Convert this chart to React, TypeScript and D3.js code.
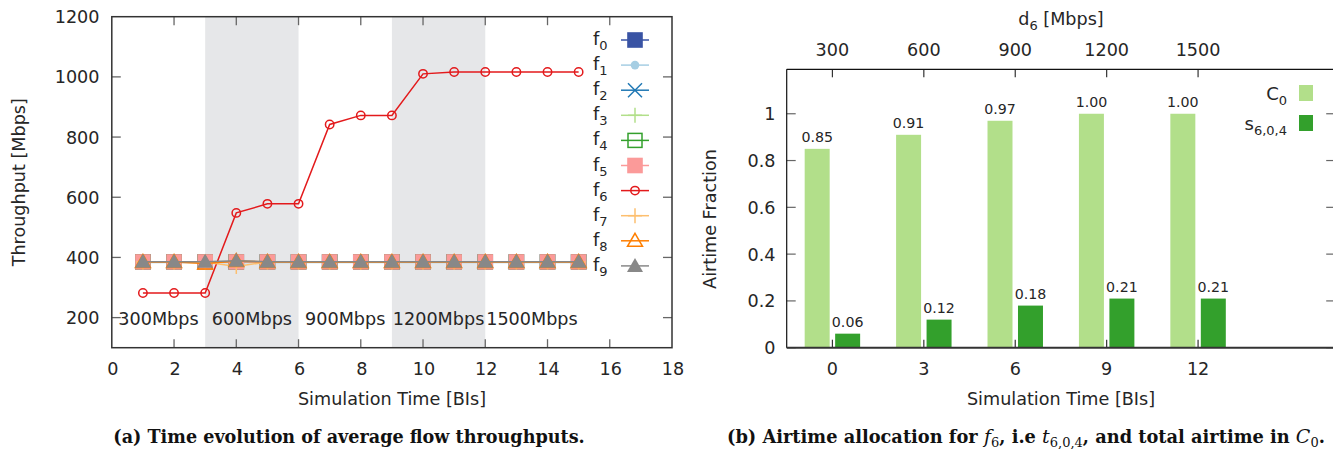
import React from "react";
import * as d3 from "d3";

// ---------- Data: chart (a) ----------
const timesA = [1, 2, 3, 4, 5, 6, 7, 8, 9, 10, 11, 12, 13, 14, 15];
const f0 = [385, 385, 385, 385, 385, 385, 385, 385, 385, 385, 385, 385, 385, 385, 385];
const f1 = [383, 383, 383, 383, 383, 383, 383, 383, 383, 383, 383, 383, 383, 383, 383];
const f2 = [385, 385, 385, 385, 385, 385, 385, 385, 385, 385, 385, 385, 385, 385, 385];
const f3 = [385, 385, 385, 385, 385, 385, 385, 385, 385, 385, 385, 385, 385, 385, 385];
const f4 = [385, 385, 385, 385, 385, 385, 385, 385, 385, 385, 385, 385, 385, 385, 385];
const f5 = [385, 385, 385, 385, 385, 385, 385, 385, 385, 385, 385, 385, 385, 385, 385];
const f6 = [282, 282, 282, 548, 578, 578, 842, 872, 872, 1010, 1016, 1016, 1016, 1016, 1016];
const f7 = [385, 385, 385, 370, 385, 385, 385, 385, 385, 385, 385, 385, 385, 385, 385];
const f8 = [385, 385, 380, 388, 385, 385, 385, 385, 385, 385, 385, 385, 385, 385, 385];
const f9 = [386, 386, 386, 389, 386, 386, 386, 386, 386, 386, 386, 386, 386, 386, 386];
const flowNames = ["0", "1", "2", "3", "4", "5", "6", "7", "8", "9"];
const bandStarts = [3, 9];
const bandWidth = 3;
const rateLabels = ["300Mbps", "600Mbps", "900Mbps", "1200Mbps", "1500Mbps"];
const rateLabelX = [1.5, 4.5, 7.5, 10.5, 13.5];
const xTicksA = [0, 2, 4, 6, 8, 10, 12, 14, 16, 18];
const yTicksA = [200, 400, 600, 800, 1000, 1200];

// ---------- Data: chart (b) ----------
const timesB = [0, 3, 6, 9, 12];
const rateB = ["300", "600", "900", "1200", "1500"];
const c0Values = [0.85, 0.91, 0.97, 1.0, 1.0];
const sValues = [0.06, 0.12, 0.18, 0.21, 0.21];
const yTicksB = [0, 0.2, 0.4, 0.6, 0.8, 1];

const seriesA = [f0, f1, f2, f3, f4, f5, f6, f7, f8, f9];
const colorsA = ["#3953a4", "#a6cee3", "#1f78b4", "#b2df8a", "#33a02c", "#fb9a99", "#e31a1c", "#fdbf6f", "#ff7f00", "#888888"];
const markerTypes = ["fsquare", "fcircle", "x", "plus", "osquare", "fsquare", "ocircle", "plus", "otri", "ftri"];

const FONT = "DejaVu Sans, sans-serif";
const SERIF = "DejaVu Serif, serif";
const FS = 17.6;
const TXT = "#262626";
const AX = "#333333";
const TICK = "#666666";

function Marker({ type, x, y, color }: { type: string; x: number; y: number; color: string }) {
  const s = 7.8;
  switch (type) {
    case "fsquare":
      return <rect x={x - s} y={y - s} width={2 * s} height={2 * s} fill={color} />;
    case "osquare":
      return <rect x={x - 7} y={y - 7} width={14} height={14} fill="none" stroke={color} strokeWidth={1.5} />;
    case "fcircle":
      return <circle cx={x} cy={y} r={4.3} fill={color} />;
    case "ocircle":
      return <circle cx={x} cy={y} r={4.2} fill="none" stroke={color} strokeWidth={1.5} />;
    case "x":
      return (
        <g stroke={color} strokeWidth={1.5}>
          <line x1={x - 7} y1={y - 7} x2={x + 7} y2={y + 7} />
          <line x1={x - 7} y1={y + 7} x2={x + 7} y2={y - 7} />
        </g>
      );
    case "plus":
      return (
        <g stroke={color} strokeWidth={1.5}>
          <line x1={x - 7} y1={y} x2={x + 7} y2={y} />
          <line x1={x} y1={y - 7.5} x2={x} y2={y + 7.5} />
        </g>
      );
    case "otri":
      return <path d={`M${x},${y - 7.5}L${x + 7.5},${y + 5.5}L${x - 7.5},${y + 5.5}Z`} fill="none" stroke={color} strokeWidth={1.5} />;
    case "ftri":
      return <path d={`M${x},${y - 8}L${x + 8},${y + 6}L${x - 8},${y + 6}Z`} fill={color} />;
  }
  return null;
}

function ChartA() {
  const x = d3.scaleLinear([0, 18], [111.8, 672]);
  const y = d3.scaleLinear([100, 1200], [347.7, 16.7]);
  const line = d3.line<number>().x((_, i) => x(timesA[i])).y((d) => y(d));
  const [x0, x1] = x.range();
  const [yb, yt] = y.range();
  return (
    <g fontFamily={FONT} fill={TXT}>
      {bandStarts.map((b) => (
        <rect key={b} x={x(b)} y={yt} width={x(b + bandWidth) - x(b)} height={yb - yt} fill="#e6e7e9" />
      ))}
      {rateLabels.map((t, i) => (
        <text key={t} x={x(rateLabelX[i])} y={324.5} textAnchor="middle" fontSize={FS}>{t}</text>
      ))}
      {xTicksA.slice(1, -1).map((t) => (
        <g key={t} stroke={TICK} strokeWidth={1.3}>
          <line x1={x(t)} x2={x(t)} y1={yb} y2={yb - 8.5} />
          <line x1={x(t)} x2={x(t)} y1={yt} y2={yt + 8.5} />
        </g>
      ))}
      {yTicksA.slice(0, -1).map((t) => (
        <g key={t} stroke={TICK} strokeWidth={1.3}>
          <line x1={x0} x2={x0 + 9} y1={y(t)} y2={y(t)} />
          <line x1={x1} x2={x1 - 9} y1={y(t)} y2={y(t)} />
        </g>
      ))}
      {xTicksA.map((t) => (
        <text key={t} x={x(t) + 1} y={375} textAnchor="middle" fontSize={FS}>{t}</text>
      ))}
      {yTicksA.map((t) => (
        <text key={t} x={99.5} y={y(t) + 6.5} textAnchor="end" fontSize={FS}>{t}</text>
      ))}
      {seriesA.map((s, k) => (
        <g key={k}>
          <path d={line(s) || ""} fill="none" stroke={colorsA[k]} strokeWidth={1.5} />
          {s.map((v, i) => (
            <Marker key={i} type={markerTypes[k]} x={x(timesA[i])} y={y(v)} color={colorsA[k]} />
          ))}
        </g>
      ))}
      {flowNames.map((n, k) => {
        const ly = 40 + k * 25.1;
        return (
          <g key={n}>
            <text x={593} y={ly + 5} fontSize={18}>
              f<tspan fontSize={13} dy={5}>{n}</tspan>
            </text>
            <line x1={621} x2={649} y1={ly} y2={ly} stroke={colorsA[k]} strokeWidth={1.5} />
            <Marker type={markerTypes[k]} x={635} y={ly} color={colorsA[k]} />
          </g>
        );
      })}
      <rect x={x0} y={yt} width={x1 - x0} height={yb - yt} fill="none" stroke={AX} strokeWidth={1.5} />
      <text x={392} y={405} textAnchor="middle" fontSize={FS}>Simulation Time [BIs]</text>
      <text transform={`translate(25,${y(650)}) rotate(-90)`} textAnchor="middle" fontSize={FS}>Throughput [Mbps]</text>
      <text x={349} y={443} textAnchor="middle" fontFamily={SERIF} fontWeight="bold" fontSize={17.6} fill="#111">
        (a) Time evolution of average flow throughputs.
      </text>
    </g>
  );
}

function ChartB() {
  const x = d3.scaleLinear([-1.5, 16.5], [786.7, 1335.2]);
  const y = d3.scaleLinear([0, 1.19], [347.7, 69.3]);
  const [x0, x1] = x.range();
  const [yb, yt] = y.range();
  const bw = x(0.41) - x(-0.41);
  return (
    <g fontFamily={FONT} fill={TXT}>
      {timesB.map((t, i) => (
        <g key={t}>
          <rect x={x(t - 0.5) - bw / 2} y={y(c0Values[i])} width={bw} height={yb - y(c0Values[i])} fill="#b2df8a" />
          <rect x={x(t + 0.5) - bw / 2} y={y(sValues[i])} width={bw} height={yb - y(sValues[i])} fill="#33a02c" />
          <text x={x(t - 0.5)} y={y(c0Values[i]) - 7} textAnchor="middle" fontSize={14.2}>{c0Values[i].toFixed(2)}</text>
          <text x={x(t + 0.5)} y={y(sValues[i]) - 7} textAnchor="middle" fontSize={14.2}>{sValues[i].toFixed(2)}</text>
        </g>
      ))}
      {timesB.map((t, i) => (
        <g key={t}>
          <line x1={x(t)} x2={x(t)} y1={yb} y2={yb - 8} stroke={AX} strokeWidth={1.2} />
          <line x1={x(t)} x2={x(t)} y1={yt} y2={yt + 8} stroke={AX} strokeWidth={1.2} />
          <text x={x(t)} y={375} textAnchor="middle" fontSize={FS}>{t}</text>
          <text x={x(t)} y={55.5} textAnchor="middle" fontSize={FS}>{rateB[i]}</text>
        </g>
      ))}
      {yTicksB.map((t) => (
        <g key={t}>
          <line x1={x0} x2={x0 + 9} y1={y(t)} y2={y(t)} stroke={TICK} strokeWidth={1.2} />
          <line x1={x1} x2={x1 - 9} y1={y(t)} y2={y(t)} stroke={TICK} strokeWidth={1.2} />
          <text x={775.5} y={y(t) + 6.5} textAnchor="end" fontSize={FS}>{t === 0 || t === 1 ? String(t) : t.toFixed(1)}</text>
        </g>
      ))}
      <line x1={x0} x2={x1} y1={yt} y2={yt} stroke="#111" strokeWidth={1.2} />
      <line x1={x0} x2={x0} y1={yt} y2={yb} stroke="#111" strokeWidth={1.2} />
      <line x1={x1} x2={x1} y1={yt} y2={yb} stroke="#111" strokeWidth={1.2} />
      <line x1={x0} x2={x1} y1={yb} y2={yb} stroke="#333" strokeWidth={2} />
      <text x={1287} y={100} textAnchor="end" fontSize={18}>
        C<tspan fontSize={13} dy={5}>0</tspan>
      </text>
      <rect x={1299} y={85} width={14} height={16} fill="#b2df8a" />
      <text x={1287} y={130} textAnchor="end" fontSize={18}>
        s<tspan fontSize={13} dy={5}>6,0,4</tspan>
      </text>
      <rect x={1299} y={115} width={14} height={16} fill="#33a02c" />
      <text x={1061} y={25} textAnchor="middle" fontSize={FS}>
        d<tspan fontSize={13} dy={5}>6</tspan><tspan dy={-5}> [Mbps]</tspan>
      </text>
      <text x={1061} y={405} textAnchor="middle" fontSize={FS}>Simulation Time [BIs]</text>
      <text transform={`translate(716,${y(0.55)}) rotate(-90)`} textAnchor="middle" fontSize={FS}>Airtime Fraction</text>
      <text x={727} y={443} fontFamily={SERIF} fontWeight="bold" fontSize={17.8} fill="#111">
        (b) Airtime allocation for <tspan fontStyle="italic" fontWeight="normal" fontSize={19}>f</tspan>
        <tspan fontSize={13} dy={4} fontWeight="normal">6</tspan>
        <tspan dy={-4}>, i.e </tspan>
        <tspan fontStyle="italic" fontWeight="normal" fontSize={19}>t</tspan>
        <tspan fontSize={13} dy={4} fontWeight="normal">6,0,4</tspan>
        <tspan dy={-4}>, and total airtime in </tspan>
        <tspan fontStyle="italic" fontWeight="normal" fontSize={19}>C</tspan>
        <tspan fontSize={13} dy={4} fontWeight="normal">0</tspan>
        <tspan dy={-4}>.</tspan>
      </text>
    </g>
  );
}

export default function App() {
  return (
    <svg width={1333} height={449} style={{ position: "absolute", left: 0, top: 0, background: "#fff" }}>
      <rect width={1333} height={449} fill="#fff" />
      <ChartA />
      <ChartB />
    </svg>
  );
}
